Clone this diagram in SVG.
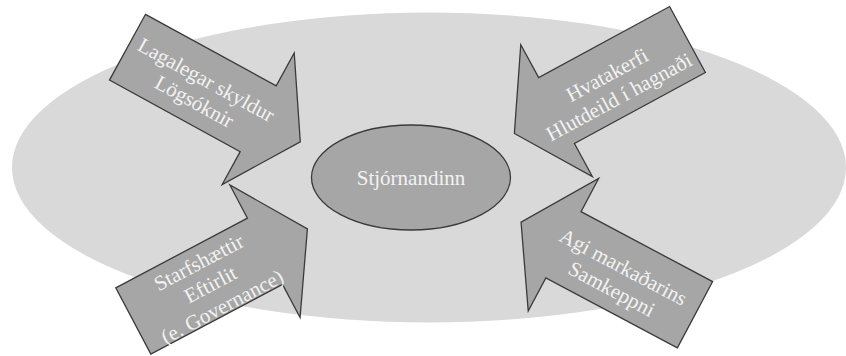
<svg xmlns="http://www.w3.org/2000/svg" width="846" height="356" viewBox="0 0 846 356">
  <style>
    .bg { fill: #d9d9d9; stroke: none; }
    .shape { fill: #a6a6a6; stroke: #3a3a3a; stroke-width: 1.3; stroke-linejoin: miter; }
    .lbl { font-family: "Liberation Serif", "Times New Roman", serif; font-size: 21px; fill: #f2f2f2; text-anchor: middle; }
  </style>
  <defs>
    <polygon id="blockArrow" points="0,-37.5 149,-37.5 149,-75 197,0 149,75 149,37.5 0,37.5"/>
  </defs>
  <g id="background">
    <ellipse class="bg" cx="429" cy="167.5" rx="417" ry="155"/>
  </g>
  <g id="node-center">
    <ellipse class="shape" cx="411" cy="177.5" rx="99.5" ry="52.5" stroke-width="1.6"/>
    <text class="lbl" x="411" y="185">Stjórnandinn</text>
  </g>
  <g id="node-top-left">
    <use href="#blockArrow" class="shape" transform="translate(127.5,47.2) rotate(28.7)"/>
    <g transform="translate(200.5,90.5) rotate(28.7)">
      <text class="lbl" x="0" y="-5">Lagalegar skyldur</text>
      <text class="lbl" x="0" y="19.5">Lögsóknir</text>
    </g>
  </g>
  <g id="node-top-right">
    <use href="#blockArrow" class="shape" transform="translate(687.5,39.5) rotate(151.5)"/>
    <g transform="translate(613,86) rotate(-28.5)">
      <text class="lbl" x="0" y="-5.5">Hvatakerfi</text>
      <text class="lbl" x="0" y="19.5">Hlutdeild í hagnaði</text>
    </g>
  </g>
  <g id="node-bottom-left">
    <use href="#blockArrow" class="shape" transform="translate(133.3,321) rotate(-27.9)"/>
    <g transform="translate(210.5,284.5) rotate(-27.9)">
      <text class="lbl" x="0" y="-18">Starfshættir</text>
      <text class="lbl" x="0" y="7">Eftirlit</text>
      <text class="lbl" x="0" y="32">(e. Governance)</text>
    </g>
  </g>
  <g id="node-bottom-right">
    <use href="#blockArrow" class="shape" transform="translate(695,314.7) rotate(-152)"/>
    <g transform="translate(617.5,278) rotate(28)">
      <text class="lbl" x="0" y="-5.5">Agi markaðarins</text>
      <text class="lbl" x="0" y="19.5">Samkeppni</text>
    </g>
  </g>
  <g id="connectors"/>
</svg>
